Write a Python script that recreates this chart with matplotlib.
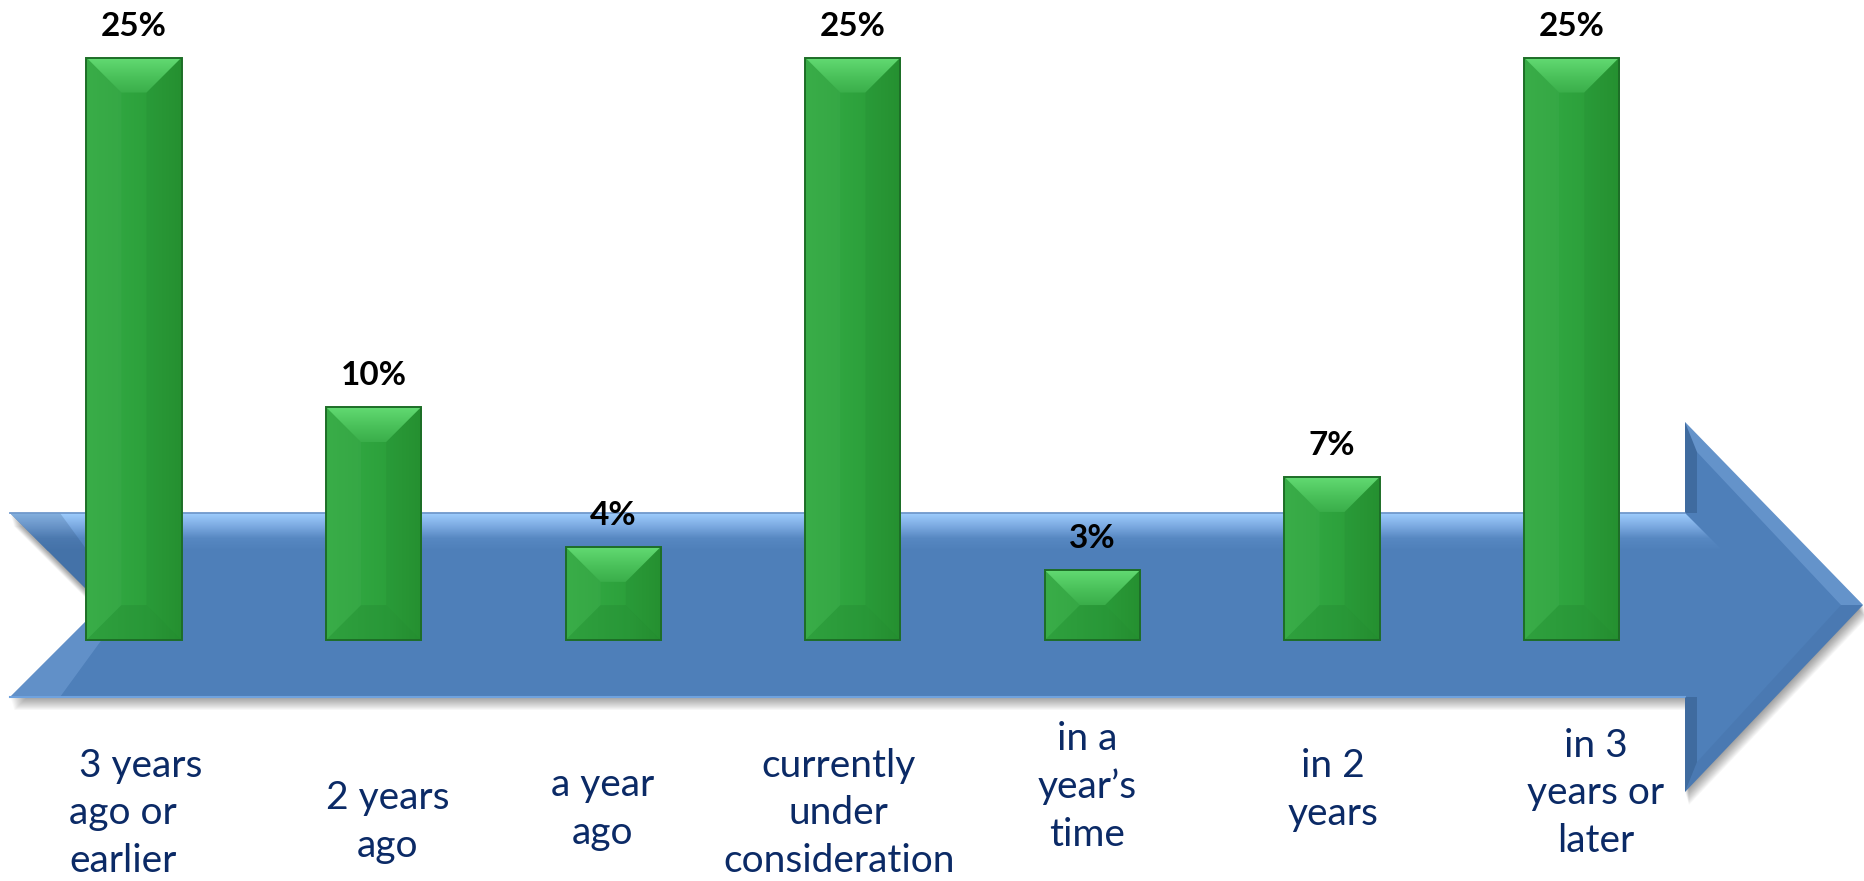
import numpy as np
import matplotlib
matplotlib.use("Agg")
import matplotlib.pyplot as plt
from matplotlib.patches import Polygon
from matplotlib.colors import LinearSegmentedColormap

# ---- data ---------------------------------------------------------------
categories = [
    " 3 years\nago or\nearlier",
    "2 years\nago",
    "a year\nago",
    "currently\nunder\nconsideration",
    "in a\nyear\u2019s\ntime",
    "in 2\nyears",
    "in 3\nyears or\nlater",
]
shares = [25, 10, 4, 25, 3, 7, 25]
value_labels = ["25%", "10%", "4%", "25%", "3%", "7%", "25%"]

# ---- layout -------------------------------------------------------------
W, H = 1864, 881
DPI = 100
# category label nudges (pixels): horizontal offset, first-baseline drop below the arrow axis
label_dx = [-65, 14, -11, -14, -5, 1, 24]
label_drop = [138, 170, 157, 138, 112, 138, 118]
label_ha = ["left", "center", "center", "center", "center", "center", "center"]
LINE_STEP = 47  # pixels between label baselines
LABEL_PT = 28
LABEL_LS = 1.40

plt.rcParams["font.family"] = ["Lato", "DejaVu Sans"]

fig = plt.figure(figsize=(W / DPI, H / DPI), dpi=DPI)
fig.patch.set_facecolor("white")
ax = fig.add_axes([0, 0, 1, 1])
ax.set_axis_off()
ax.set_xlim(-0.559, 7.22)
ax.set_ylim(-10.34, 27.47)
ax.set_autoscale_on(False)


def P(x, y):
    """pixel position (from top-left) -> axes fraction"""
    return (x / W, 1 - y / H)


def poly(pts, **kw):
    p = Polygon([P(a, b) for a, b in pts], closed=True,
                transform=ax.transAxes, edgecolor="none", **kw)
    ax.add_patch(p)
    return p


def grad_image(colors, extent, clip, z, vertical=True, transform=None):
    cmap = LinearSegmentedColormap.from_list("g", colors)
    ramp = np.linspace(0, 1, 128)
    img = ramp.reshape(-1, 1) if vertical else ramp.reshape(1, -1)
    kw = {} if transform is None else {"transform": transform}
    im = ax.imshow(img, cmap=cmap, extent=extent, origin="upper",
                   aspect="auto", zorder=z, interpolation="bilinear", **kw)
    im.set_clip_path(clip)
    return im


# ---- the timeline arrow -------------------------------------------------
st, sb = 513, 697
mid = (st + sb) / 2
tail_x, notch_x = 10, 102
head_x, head_t, head_b, tip_x = 1685, 422, 792, 1863
arrow_px = [(tail_x, st), (head_x, st), (head_x, head_t), (tip_x, mid),
            (head_x, head_b), (head_x, sb), (tail_x, sb), (notch_x, mid)]

# soft shadow
for k in range(1, 14):
    poly([(x + 0.3 * k, y + k) for x, y in arrow_px],
         facecolor="#000000", alpha=0.03, zorder=1)

arrow = poly(arrow_px, facecolor="#4E7FB9", zorder=2)

# light band along the top of the shaft, ending in a bevel at the head
band = poly([(tail_x, st), (head_x, st), (head_x + 38, st + 38),
             (tail_x + 38, st + 38)], facecolor="none")
bx0, by0 = P(tail_x, st + 38)
bx1, by1 = P(head_x + 38, st)
grad_image(["#9ECDFD", "#7DABE2", "#5788C2", "#4E7FB9"],
           (bx0, bx1, by0, by1), band, 2.1, transform=ax.transAxes)
ax.plot(*zip(P(tail_x, st), P(head_x, st)), transform=ax.transAxes,
        color="#7099CC", lw=1.3, zorder=2.2)
ax.plot(*zip(P(tail_x, sb), P(head_x, sb)), transform=ax.transAxes,
        color="#6FA2DE", lw=1.5, zorder=2.2)

# tail facets
poly([(tail_x, st), (notch_x, mid), (notch_x + 25, mid), (tail_x + 50, st)],
     facecolor="#1F3F66", alpha=0.20, zorder=2.15)
poly([(tail_x, sb), (notch_x, mid), (notch_x + 25, mid), (tail_x + 50, sb)],
     facecolor="#A9D0FF", alpha=0.22, zorder=2.15)

# head facets
bev = 12
poly([(head_x, head_t), (head_x + bev, head_t + 30), (head_x + bev, st),
      (head_x, st)], facecolor="#1F3F66", alpha=0.30, zorder=2.3)
poly([(head_x, head_b), (head_x + bev, head_b - 30), (head_x + bev, sb),
      (head_x, sb)], facecolor="#1F3F66", alpha=0.30, zorder=2.3)
poly([(head_x, head_t), (tip_x, mid), (tip_x - 22, mid),
      (head_x + bev, head_t + 30)], facecolor="#A9D0FF", alpha=0.25, zorder=2.3)
poly([(head_x, head_b), (tip_x, mid), (tip_x - 22, mid),
      (head_x + bev, head_b - 30)], facecolor="#1F3F66", alpha=0.08, zorder=2.3)

# ---- bars -----------------------------------------------------------------
x = np.arange(len(categories))
bars = ax.bar(x, shares, width=0.397, color="#2DA13C", edgecolor="none",
              zorder=3)

fig.canvas.draw()
ppx = ax.transData.transform((1, 0))[0] - ax.transData.transform((0, 0))[0]
ppy = ax.transData.transform((0, 1))[1] - ax.transData.transform((0, 0))[1]

face_colors = ["#33AB43", "#30A640", "#2CA03B", "#279633"]
top_colors = ["#62DA72", "#4CC35C", "#3AAE4A"]

for rect in bars:
    rx0 = rect.get_x()
    rw = rect.get_width()
    rx1 = rx0 + rw
    rh = rect.get_height()
    b = min(35, rh * ppy / 2, rw * ppx / 2)
    dx, dy = b / ppx, b / ppy

    grad_image(face_colors, (rx0, rx1, 0, rh), rect, 3.1, vertical=False)

    top = Polygon([(rx0, rh), (rx1, rh), (rx1 - dx, rh - dy), (rx0 + dx, rh - dy)],
                  closed=True, facecolor="none", edgecolor="none")
    ax.add_patch(top)
    grad_image(top_colors, (rx0, rx1, rh - dy, rh), top, 3.2)

    ax.add_patch(Polygon([(rx0, 0), (rx1, 0), (rx1 - dx, dy), (rx0 + dx, dy)],
                         closed=True, facecolor="#0E4A16", alpha=0.10,
                         edgecolor="none", zorder=3.2))
    ax.add_patch(Polygon([(rx1, 0), (rx1, rh), (rx1 - dx, rh - dy), (rx1 - dx, dy)],
                         closed=True, facecolor="#0E4A16", alpha=0.07,
                         edgecolor="none", zorder=3.2))
    ax.add_patch(Polygon([(rx0, 0), (rx0, rh), (rx0 + dx, rh - dy), (rx0 + dx, dy)],
                         closed=True, facecolor="#FFFFFF", alpha=0.03,
                         edgecolor="none", zorder=3.2))
    ax.add_patch(plt.Rectangle((rx0, 0), rw, rh, facecolor="none",
                               edgecolor="#1D6E27", linewidth=1.4, zorder=3.4))

# value labels above bars
for i, (v, lab) in enumerate(zip(shares, value_labels)):
    ax.annotate(lab, xy=(x[i], v), xytext=(0, 22), textcoords="offset pixels",
                ha="center", va="baseline", fontsize=24, fontweight="bold",
                color="black", zorder=5)

# category labels under the arrow (anchored on the last line's baseline)
for i, cat in enumerate(categories):
    n = cat.count("\n")
    drop = label_drop[i] + n * LINE_STEP
    ax.annotate(cat, xy=(x[i], 0), xytext=(label_dx[i], -drop),
                textcoords="offset pixels", ha=label_ha[i], va="baseline",
                multialignment=label_ha[i], fontsize=LABEL_PT, color="#0B2A66",
                linespacing=LABEL_LS, zorder=5)

fig.savefig("out.png", dpi=DPI, facecolor="white")
